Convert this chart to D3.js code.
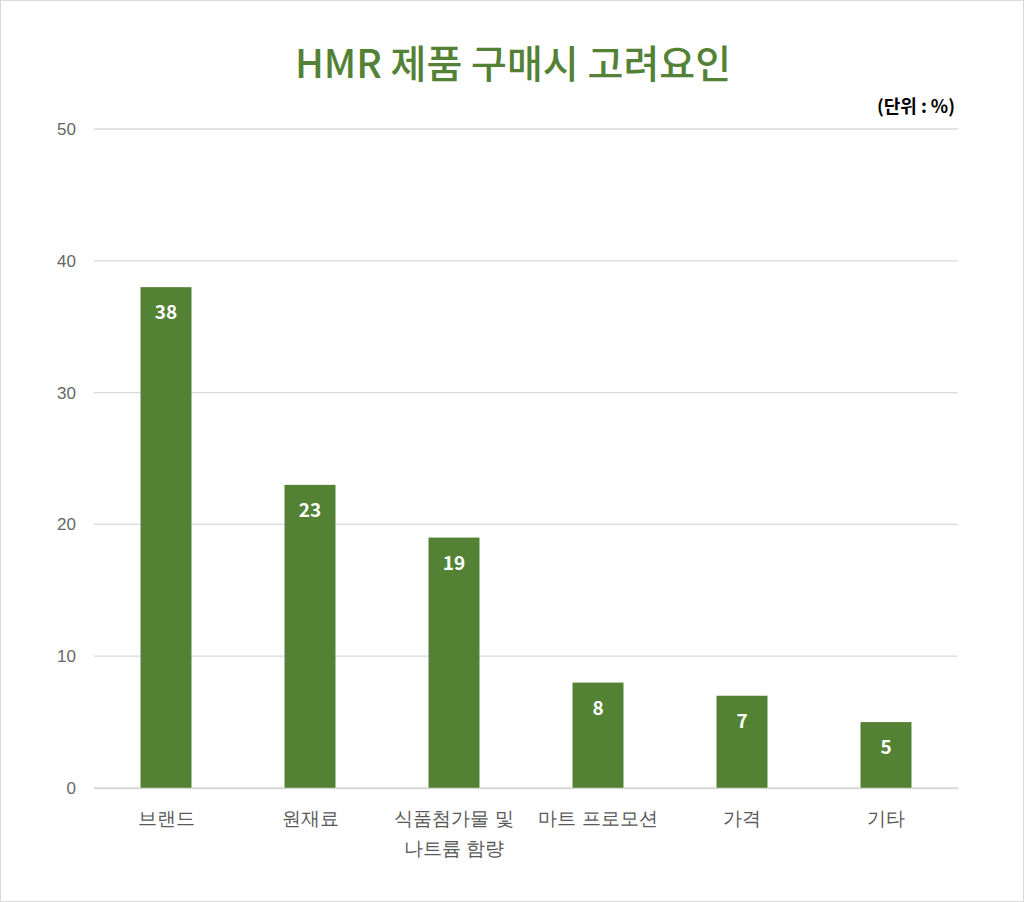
<!DOCTYPE html>
<html><head><meta charset="utf-8">
<script src="https://cdn.jsdelivr.net/npm/d3@7"></script>
<style>
html,body{margin:0;padding:0;background:#fff;}
svg{display:block;font-family:"Noto Sans CJK KR","Noto Sans",sans-serif;}
</style></head>
<body>
<script>
const categories = ["브랜드", "원재료", "식품첨가물 및\n나트륨 함량", "마트 프로모션", "가격", "기타"];
const values = [38, 23, 19, 8, 7, 5];
const yTicks = [0, 10, 20, 30, 40, 50];
const titleText = "HMR 제품 구매시 고려요인";
const unitText = "(단위 : %)";

const W = 1024, H = 902;
const margin = {left: 94, right: 66, top: 129, bottom: 114};
const svg = d3.select("body").append("svg").attr("width", W).attr("height", H);
svg.append("rect").attr("x",0.5).attr("y",0.5).attr("width",W-1).attr("height",H-1)
  .attr("fill","#fff").attr("stroke","#d9d9d9");

const x = d3.scaleBand().domain(categories).range([margin.left, W - margin.right]).paddingInner(0.646).paddingOuter(0.323);
const y = d3.scaleLinear().domain([0, 50]).range([H - margin.bottom, margin.top]);

// gridlines
svg.append("g").selectAll("line").data(yTicks).join("line")
  .attr("x1", margin.left).attr("x2", W - margin.right)
  .attr("y1", d => y(d)).attr("y2", d => y(d))
  .attr("stroke", "#d9d9d9").attr("stroke-width", 1.3);

// y axis labels
const yAxis = d3.axisLeft(y).tickValues(yTicks).tickSize(0).tickPadding(18);
const gy = svg.append("g").attr("transform", `translate(${margin.left},0)`).call(yAxis);
gy.select(".domain").remove();
gy.selectAll("text").attr("fill", "#666666").attr("font-size", 17).style("font-family","inherit");

// bars
svg.append("g").selectAll("rect").data(values).join("rect")
  .attr("x", (d,i) => x(categories[i])).attr("width", x.bandwidth())
  .attr("y", d => y(d)).attr("height", d => y(0) - y(d))
  .attr("fill", "#548235");

// value labels
svg.append("g").selectAll("text").data(values).join("text")
  .attr("x", (d,i) => x(categories[i]) + x.bandwidth()/2)
  .attr("y", d => y(d) + 32)
  .attr("text-anchor", "middle").attr("fill", "#fff")
  .attr("font-size", 19).attr("font-weight", "bold").text(d => d);

// x axis labels
const xAxis = d3.axisBottom(x).tickSize(0).tickPadding(0);
const gx = svg.append("g").attr("transform", `translate(0,${y(0)})`).call(xAxis);
gx.select(".domain").attr("stroke", "#d9d9d9").attr("stroke-width", 1.3);
gx.selectAll("text").each(function(d){
  const t = d3.select(this);
  t.text(null).attr("fill","#595959").attr("font-size",19).style("font-family","inherit").attr("y",0).attr("dy",null);
  d.split("\n").forEach((line,k) => {
    t.append("tspan").attr("x",0).attr("y", 37 + k*30).text(line);
  });
});

// title
svg.append("text").attr("x", 513).attr("y", 78).attr("text-anchor","middle")
  .attr("fill","#538135").attr("font-size",39).attr("font-weight",500).text(titleText);

// unit
svg.append("text").attr("x", 955).attr("y", 113).attr("text-anchor","end")
  .attr("fill","#000").attr("font-size",18).attr("font-weight","bold").text(unitText);
</script>
</body></html>
